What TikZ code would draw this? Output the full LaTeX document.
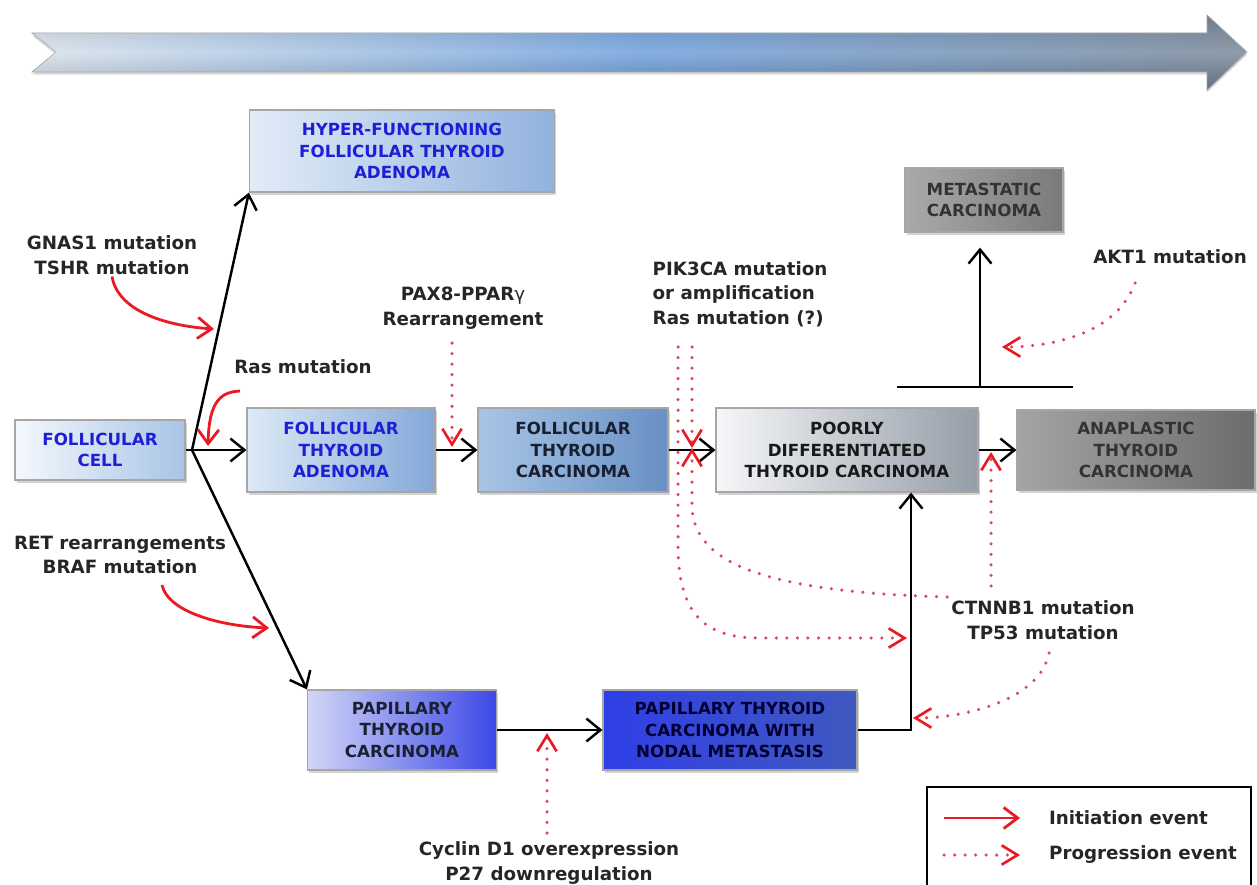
\documentclass[tikz,border=0pt]{standalone}
\usepackage{fontspec}
\setmainfont{DejaVu Sans}
\usetikzlibrary{arrows.meta,shadows,calc}

\definecolor{txtblue}{RGB}{30,30,215}
\definecolor{txtdark}{RGB}{25,32,50}
\definecolor{initred}{RGB}{235,25,35}
\definecolor{progred}{RGB}{215,75,95}
\definecolor{timeL}{HTML}{D3DEE9}\definecolor{timeM}{HTML}{5E95D8}\definecolor{timeR}{HTML}{6A7A8C}
\definecolor{cellL}{HTML}{F4F8FC}\definecolor{cellR}{HTML}{A8C4E6}
\definecolor{hyperL}{HTML}{E2ECF8}\definecolor{hyperR}{HTML}{92B2DE}
\definecolor{ftaL}{HTML}{DDE9F6}\definecolor{ftaR}{HTML}{84A8D8}
\definecolor{ftcL}{HTML}{A9C5E5}\definecolor{ftcR}{HTML}{6890C4}
\definecolor{pdtcL}{HTML}{F6F7F9}\definecolor{pdtcR}{HTML}{959DA8}
\definecolor{atcL}{HTML}{A4A4A4}\definecolor{atcR}{HTML}{6C6C6C}
\definecolor{metaL}{HTML}{AAAAAA}\definecolor{metaR}{HTML}{7A7A7A}
\definecolor{ptcL}{HTML}{D2D6F6}\definecolor{ptcR}{HTML}{3C48E6}
\definecolor{nodalL}{HTML}{2F3FE6}\definecolor{nodalR}{HTML}{4058C0}

\newcommand{\boxfont}{\fontsize{9.5}{12}\selectfont\bfseries}
\newcommand{\labfont}{\fontsize{10.4}{14}\selectfont\bfseries}

\tikzset{
	stage/.style={draw=black!35, line width=0.7pt, align=center, font=\boxfont, inner sep=2pt,
		drop shadow={shadow xshift=1pt, shadow yshift=-1.6pt, opacity=0.35}},
	lab/.style={align=center, font=\labfont, text=black!85, inner sep=1pt},
	flow/.style={line width=1.4pt, -{Straight Barb[length=8pt, width=13pt, line width=1.4pt]}},
	init/.style={line width=1.6pt, initred, -{Straight Barb[length=8pt, width=12pt, line width=1.6pt]}},
	prog/.style={line width=2pt, progred, line cap=round, dash pattern=on 0pt off 6pt,
		-{Straight Barb[length=9pt, width=11pt, line width=1.5pt, color=initred]}},
}

\begin{document}
\begin{tikzpicture}[x=0.02cm, y=-0.02cm]
	\useasboundingbox (0,0) rectangle (1257,885);
	%
	% time arrow
	\shade[left color=timeL, right color=timeR, middle color=timeM, draw=gray!70,
		drop shadow={shadow xshift=0pt, shadow yshift=-1.5pt, opacity=0.3}]
		(32,33) -- (1207,33) -- (1207,15) -- (1247,52) -- (1207,90) -- (1207,72) -- (32,72) -- (56,52) -- cycle;
	\shade[top color=black!50, bottom color=black!70, middle color=white, fill opacity=0.25]
		(32,33) -- (1207,33) -- (1207,15) -- (1247,52) -- (1207,90) -- (1207,72) -- (32,72) -- (56,52) -- cycle;
	%
	% stages
	\node[stage, left color=cellL, right color=cellR, text=txtblue, minimum width=3.4cm, minimum height=1.2cm]
		(cell) at (100,450) {FOLLICULAR\\CELL};
	\node[stage, left color=hyperL, right color=hyperR, text=txtblue, minimum width=6.1cm, minimum height=1.64cm]
		(hyper) at (402,151) {HYPER-FUNCTIONING\\FOLLICULAR THYROID\\ADENOMA};
	\node[stage, left color=ftaL, right color=ftaR, text=txtblue, minimum width=3.76cm, minimum height=1.68cm]
		(fta) at (341,450) {FOLLICULAR\\THYROID\\ADENOMA};
	\node[stage, left color=ftcL, right color=ftcR, text=txtdark, minimum width=3.8cm, minimum height=1.68cm]
		(ftc) at (573,450) {FOLLICULAR\\THYROID\\CARCINOMA};
	\node[stage, left color=pdtcL, right color=pdtcR, text=black!90, minimum width=5.24cm, minimum height=1.68cm]
		(pdtc) at (847,450) {POORLY\\DIFFERENTIATED\\THYROID CARCINOMA};
	\node[stage, left color=atcL, right color=atcR, text=black!80, minimum width=4.76cm, minimum height=1.6cm]
		(atc) at (1136,450) {ANAPLASTIC\\THYROID\\CARCINOMA};
	\node[stage, left color=metaL, right color=metaR, text=black!80, minimum width=3.16cm, minimum height=1.28cm]
		(meta) at (984,200) {METASTATIC\\CARCINOMA};
	\node[stage, left color=ptcL, right color=ptcR, text=txtdark, minimum width=3.78cm, minimum height=1.6cm]
		(ptc) at (402,730) {PAPILLARY\\THYROID\\CARCINOMA};
	\node[stage, left color=nodalL, right color=nodalR, text=blue!20!black, minimum width=5.08cm, minimum height=1.6cm]
		(nodal) at (730,730) {PAPILLARY THYROID\\CARCINOMA WITH\\NODAL METASTASIS};
	%
	% labels
	\node[lab] (gnas) at (112,255) {GNAS1 mutation\\TSHR mutation};
	\node[lab] (ras) at (303,367) {Ras mutation};
	\node[lab] (pax8) at (463,308) {PAX8-PPAR{\mdseries γ}\\Rearrangement};
	\node[lab, align=left] (pik) at (740,294) {PIK3CA mutation\\or amplification\\Ras mutation (?)};
	\node[lab] (akt) at (1170,257) {AKT1 mutation};
	\node[lab] (ret) at (120,555) {RET rearrangements\\BRAF mutation};
	\node[lab] (ctnnb) at (1043,620) {CTNNB1 mutation\\TP53 mutation};
	\node[lab] (cyclin) at (549,863) {Cyclin D1 overexpression\\P27 downregulation};
	%
	% main flow
	\coordinate (split) at (192,450);
	\draw[line width=1.4pt] (cell.east) -- (split);
	\draw[flow] (split) -- (hyper.south west);
	\draw[flow] (split) -- (fta.west);
	\draw[flow] (split) -- (ptc.north west);
	\draw[flow] (fta.east) -- (ftc.west);
	\draw[flow] (ftc.east) -- (pdtc.west);
	\draw[flow] (pdtc.east) -- (atc.west);
	\draw[flow] (ptc.east) -- (nodal.west);
	\draw[flow] (nodal.east) -| ([xshift=1.28cm]pdtc.south);
	\coordinate (barL) at (897,387);
	\coordinate (barR) at (1073,387);
	\coordinate (bar) at (980,387);
	\draw[line width=1.4pt] (barL) -- (barR);
	\draw[flow, shorten >=0.3cm] (bar) -- (bar |- meta.south);
	%
	% initiation events
	\coordinate (gnas-in) at (214,329);
	\draw[init] (gnas.south) .. controls (118,312) and (168,326) .. (gnas-in);
	\coordinate (ras-out) at (240,391);
	\coordinate (ras-in) at (208,446);
	\draw[init] (ras-out) .. controls (220,392) and (209,402) .. (ras-in);
	\coordinate (ret-out) at (162,585);
	\coordinate (ret-in) at (269,628);
	\draw[init] (ret-out) .. controls (168,612) and (220,626) .. (ret-in);
	%
	% progression events
	\coordinate (pax8-out) at (452,343);
	\coordinate (pax8-in) at (452,447);
	\draw[prog] (pax8-out) -- (pax8-in);
	\coordinate (pik-a) at (678,347);
	\coordinate (pik-b) at (692,347);
	\coordinate (pik-in) at (692,448);
	\coordinate (pik-in2) at (907,638);
	\draw[prog] (pik-b) -- (pik-in);
	\draw[prog] (pik-a) -- (678,545) .. controls (678,615) and (705,638) .. (760,638) -- (pik-in2);
	\coordinate (ct-out) at (947,597);
	\coordinate (ct-in) at (692,448);
	\draw[prog] (ct-out) .. controls (770,592) and (692,565) .. (692,505) -- (ct-in);
	\coordinate (ct-out2) at (991,586);
	\coordinate (ct-in2) at (991,452);
	\draw[prog] (ct-out2) -- (ct-in2);
	\coordinate (tp-out) at (1049,653);
	\coordinate (tp-in) at (913,718);
	\draw[prog] (tp-out) .. controls (1040,700) and (965,718) .. (tp-in);
	\coordinate (akt-out) at (1135,283);
	\coordinate (akt-in) at (1002,347);
	\draw[prog] (akt-out) .. controls (1118,330) and (1060,347) .. (akt-in);
	\coordinate (cy-out) at (547,833);
	\coordinate (cy-in) at (547,733);
	\draw[prog] (cy-out) -- (cy-in);
	%
	% legend
	\draw[line width=0.8pt] (927,885) -- (927,787) -- (1251,787) -- (1251,885);
	\node[lab, anchor=west] (initTxt) at (1047,818) {Initiation event};
	\node[lab, anchor=west] (progTxt) at (1047,855) {Progression event};
	\draw[init] ([xshift=-2.06cm]initTxt.west) -- ([xshift=-0.54cm]initTxt.west);
	\draw[prog] ([xshift=-2.06cm]progTxt.west) -- ([xshift=-0.54cm]progTxt.west);
	%
\end{tikzpicture}
\end{document}
